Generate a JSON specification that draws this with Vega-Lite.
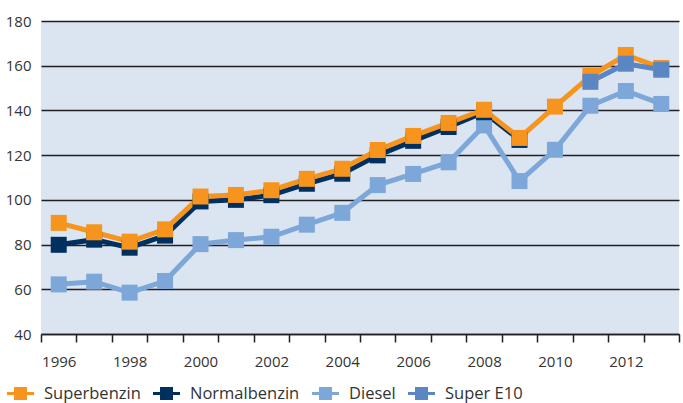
{
  "$schema": "https://vega.github.io/schema/vega-lite/v6.json",
  "width": 638,
  "height": 313,
  "autosize": {"type": "none"},
  "padding": {"left": 41, "top": 21, "right": 4, "bottom": 69},
  "background": "white",
  "config": {
    "view": {"fill": "#dbe5f1", "stroke": null},
    "font": "Open Sans",
    "axis": {"labelFont": "Open Sans", "labelFontSize": 15, "labelColor": "#333333"},
    "legend": {"labelFont": "Open Sans", "labelFontSize": 16.5, "labelColor": "#333333"}
  },
  "data": {
    "values": [
      {"year": 1996, "fuel": "Diesel", "value": 62.2},
      {"year": 1997, "fuel": "Diesel", "value": 63.4},
      {"year": 1998, "fuel": "Diesel", "value": 58.5},
      {"year": 1999, "fuel": "Diesel", "value": 63.7},
      {"year": 2000, "fuel": "Diesel", "value": 80.2},
      {"year": 2001, "fuel": "Diesel", "value": 82.0},
      {"year": 2002, "fuel": "Diesel", "value": 83.5},
      {"year": 2003, "fuel": "Diesel", "value": 88.9},
      {"year": 2004, "fuel": "Diesel", "value": 94.2},
      {"year": 2005, "fuel": "Diesel", "value": 106.6},
      {"year": 2006, "fuel": "Diesel", "value": 111.6},
      {"year": 2007, "fuel": "Diesel", "value": 116.8},
      {"year": 2008, "fuel": "Diesel", "value": 133.3},
      {"year": 2009, "fuel": "Diesel", "value": 108.4},
      {"year": 2010, "fuel": "Diesel", "value": 122.4},
      {"year": 2011, "fuel": "Diesel", "value": 142.1},
      {"year": 2012, "fuel": "Diesel", "value": 148.7},
      {"year": 2013, "fuel": "Diesel", "value": 142.9},
      {"year": 1996, "fuel": "Normalbenzin", "value": 79.9},
      {"year": 1997, "fuel": "Normalbenzin", "value": 82.2},
      {"year": 1998, "fuel": "Normalbenzin", "value": 78.6},
      {"year": 1999, "fuel": "Normalbenzin", "value": 84.0},
      {"year": 2000, "fuel": "Normalbenzin", "value": 99.3},
      {"year": 2001, "fuel": "Normalbenzin", "value": 100.0},
      {"year": 2002, "fuel": "Normalbenzin", "value": 102.1},
      {"year": 2003, "fuel": "Normalbenzin", "value": 107.2},
      {"year": 2004, "fuel": "Normalbenzin", "value": 111.7},
      {"year": 2005, "fuel": "Normalbenzin", "value": 119.9},
      {"year": 2006, "fuel": "Normalbenzin", "value": 126.4},
      {"year": 2007, "fuel": "Normalbenzin", "value": 132.6},
      {"year": 2008, "fuel": "Normalbenzin", "value": 139.2},
      {"year": 2009, "fuel": "Normalbenzin", "value": 126.8},
      {"year": 1996, "fuel": "Superbenzin", "value": 89.7},
      {"year": 1997, "fuel": "Superbenzin", "value": 85.5},
      {"year": 1998, "fuel": "Superbenzin", "value": 81.3},
      {"year": 1999, "fuel": "Superbenzin", "value": 86.8},
      {"year": 2000, "fuel": "Superbenzin", "value": 101.5},
      {"year": 2001, "fuel": "Superbenzin", "value": 102.2},
      {"year": 2002, "fuel": "Superbenzin", "value": 104.3},
      {"year": 2003, "fuel": "Superbenzin", "value": 109.4},
      {"year": 2004, "fuel": "Superbenzin", "value": 113.9},
      {"year": 2005, "fuel": "Superbenzin", "value": 122.3},
      {"year": 2006, "fuel": "Superbenzin", "value": 128.6},
      {"year": 2007, "fuel": "Superbenzin", "value": 134.4},
      {"year": 2008, "fuel": "Superbenzin", "value": 140.3},
      {"year": 2009, "fuel": "Superbenzin", "value": 127.7},
      {"year": 2010, "fuel": "Superbenzin", "value": 141.7},
      {"year": 2011, "fuel": "Superbenzin", "value": 155.4},
      {"year": 2012, "fuel": "Superbenzin", "value": 164.8},
      {"year": 2013, "fuel": "Superbenzin", "value": 159.0},
      {"year": 2011, "fuel": "Super E10", "value": 152.8},
      {"year": 2012, "fuel": "Super E10", "value": 160.9},
      {"year": 2013, "fuel": "Super E10", "value": 158.2}
    ]
  },
  "encoding": {
    "x": {
      "field": "year",
      "type": "ordinal",
      "scale": {"type": "band", "paddingInner": 0, "paddingOuter": 0},
      "axis": {
        "title": null,
        "labelAngle": 0,
        "labelExpr": "datum.value % 2 == 0 ? datum.label : ''",
        "tickBand": "extent",
        "tickSize": 8,
        "tickColor": "#231f20",
        "tickWidth": 1.5,
        "domainColor": "#231f20",
        "domainWidth": 1.5,
        "labelPadding": 12,
        "grid": false
      }
    },
    "y": {
      "field": "value",
      "type": "quantitative",
      "scale": {"domain": [40, 180], "nice": false, "zero": false},
      "axis": {
        "title": null,
        "values": [40, 60, 80, 100, 120, 140, 160, 180],
        "domain": false,
        "ticks": false,
        "grid": true,
        "gridColor": "#231f20",
        "gridWidth": 1.5,
        "gridOpacity": 1,
        "labelPadding": 10
      }
    },
    "color": {
      "field": "fuel",
      "type": "nominal",
      "scale": {
        "domain": ["Superbenzin", "Normalbenzin", "Diesel", "Super E10"],
        "range": ["#f7941d", "#00305f", "#7da6d9", "#5b86c4"]
      },
      "legend": {
        "title": null,
        "orient": "none",
        "direction": "horizontal",
        "legendX": -34,
        "legendY": 359,
        "symbolType": "M-1,-0.11H1V0.11H-1Z M-0.48,-0.48H0.48V0.48H-0.48Z",
        "symbolSize": 729,
        "symbolStrokeWidth": 0,
        "symbolOpacity": 1,
        "labelOffset": 10,
        "columnPadding": 12
      }
    }
  },
  "layer": [
    {"mark": {"type": "line", "strokeWidth": 5}},
    {"mark": {"type": "point", "shape": "square", "filled": true, "size": 256, "opacity": 1}}
  ]
}
